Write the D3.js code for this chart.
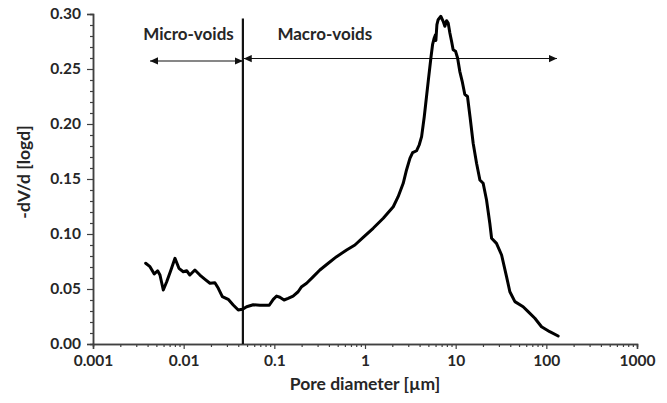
<!DOCTYPE html>
<html>
<head>
<meta charset="utf-8">
<script src="https://cdn.jsdelivr.net/npm/d3@7"></script>
<style>
  html, body { margin: 0; padding: 0; background: #fff; }
  svg { display: block; }
  text { font-family: Lato, "Open Sans", sans-serif; font-weight: 700; fill: #262626; }
</style>
</head>
<body>
<svg id="chart" width="667" height="403"></svg>
<script>
// Pore size distribution: -dV/d(log d) against pore diameter (µm)
const poreDiameter = [
  0.00381, 0.00425, 0.00474, 0.00516, 0.00548, 0.00596, 0.00650, 0.00724, 0.00802, 0.00887,
  0.00990, 0.0108, 0.0117, 0.0133, 0.0151, 0.0172, 0.0195, 0.0221, 0.0241, 0.0267,
  0.0310, 0.0352, 0.0400, 0.0443, 0.0495, 0.0585, 0.0693, 0.0879, 0.0973, 0.106,
  0.115, 0.128, 0.142, 0.161, 0.183, 0.200, 0.227, 0.269, 0.318, 0.393,
  0.486, 0.627, 0.774, 0.955, 1.23, 1.59, 2.05, 2.32, 2.64, 2.87,
  3.13, 3.35, 3.71, 3.96, 4.21, 4.38, 4.50, 4.66, 4.98, 5.33,
  5.56, 5.80, 6.00, 6.05, 6.21, 6.41, 6.87, 7.28, 7.60, 7.94,
  8.27, 8.63, 9.01, 9.38, 9.97, 10.5, 11.1, 11.8, 12.6, 13.5,
  14.4, 15.6, 17.0, 18.5, 20.1, 21.9, 23.8, 24.9, 28.2, 32.1,
  36.4, 39.6, 45.0, 55.5, 63.0, 74.7, 88.5, 109, 135
];
const dVdlogd = [
  0.0734, 0.0703, 0.0636, 0.0666, 0.0627, 0.0491, 0.0566, 0.0673, 0.0779, 0.0688,
  0.0657, 0.0666, 0.0627, 0.0673, 0.0627, 0.0588, 0.0552, 0.0557, 0.0506, 0.0430,
  0.0406, 0.0355, 0.0309, 0.0315, 0.0339, 0.0357, 0.0352, 0.0352, 0.0406, 0.0436,
  0.0425, 0.0400, 0.0415, 0.0436, 0.0475, 0.0521, 0.0552, 0.0612, 0.0673, 0.0734,
  0.0794, 0.0855, 0.0900, 0.0970, 0.1052, 0.1143, 0.1248, 0.1339, 0.1461, 0.1582,
  0.1688, 0.1739, 0.1757, 0.1809, 0.1885, 0.1991, 0.2064, 0.2175, 0.2388, 0.2600,
  0.2721, 0.2782, 0.2812, 0.2760, 0.2903, 0.2948, 0.2979, 0.2934, 0.2888, 0.2939,
  0.2918, 0.2827, 0.2752, 0.2675, 0.2661, 0.2600, 0.2479, 0.2388, 0.2270, 0.2250,
  0.2066, 0.1825, 0.1643, 0.1491, 0.1461, 0.1309, 0.1097, 0.0961, 0.0915, 0.0809,
  0.0612, 0.0475, 0.0385, 0.0339, 0.0294, 0.0234, 0.0157, 0.0112, 0.0073
];

// Axis ticks and labels
const xTickValues = [0.001, 0.01, 0.1, 1, 10, 100, 1000];
const xTickLabels = ["0.001", "0.01", "0.1", "1", "10", "100", "1000"];
const yTickValues = [0, 0.05, 0.10, 0.15, 0.20, 0.25, 0.30];
const yTickLabels = ["0.00", "0.05", "0.10", "0.15", "0.20", "0.25", "0.30"];

// Boundary between micro- and macro-voids, and the range arrows
const voidBoundary = 0.045;
const microArrow = [0.00425, 0.045];
const macroArrow = [0.046, 131];
const arrowLevels = [0.2573, 0.2595];
const regionLabels = ["Micro-voids", "Macro-voids"];
const regionLabelX = [0.0113, 0.36];
const regionLabelY = [0.2765, 0.2765];

const svg = d3.select("#chart");
const x = d3.scaleLog().domain([0.001, 1000]).range([93, 637]);
const y = d3.scaleLinear().domain([0, 0.30]).range([344, 14]);

const axisColor = "#404040";

// minor ticks
const xMinor = [];
for (let e = -3; e < 3; e++) for (let k = 2; k <= 9; k++) xMinor.push(k * Math.pow(10, e));
const yMinor = d3.range(0, 31).map(i => i / 100).filter(v => Math.round(v * 100) % 5 !== 0);

const gxMinor = svg.append("g").attr("transform", "translate(0,344)")
  .call(d3.axisBottom(x).tickValues(xMinor).tickSize(3).tickFormat(""));
const gx = svg.append("g").attr("transform", "translate(0,344)")
  .call(d3.axisBottom(x).tickValues(xTickValues).tickSize(5).tickPadding(6)
    .tickFormat((d, i) => xTickLabels[i]));
const gyMinor = svg.append("g").attr("transform", "translate(93,0)")
  .call(d3.axisLeft(y).tickValues(yMinor).tickSize(3).tickFormat(""));
const gy = svg.append("g").attr("transform", "translate(93,0)")
  .call(d3.axisLeft(y).tickValues(yTickValues).tickSize(6).tickPadding(6)
    .tickFormat((d, i) => yTickLabels[i]));

[gx, gy, gxMinor, gyMinor].forEach(g => {
  g.selectAll(".domain").attr("stroke", axisColor).attr("stroke-width", 1.5);
  g.selectAll(".tick line").attr("stroke", axisColor).attr("stroke-width", 1.2);
  g.selectAll("text").attr("font-size", 15.5).attr("font-family", "Lato, sans-serif")
    .attr("font-weight", 700).attr("fill", "#262626");
});

// axis titles
svg.append("text").attr("x", 365).attr("y", 390).attr("text-anchor", "middle")
  .attr("font-size", 17.5).text("Pore diameter [µm]");
svg.append("text").attr("transform", "translate(30,172) rotate(-90)")
  .attr("text-anchor", "middle").attr("font-size", 17.5).text("-dV/d [logd]");

// arrow markers
const defs = svg.append("defs");
["end", "start"].forEach(kind => {
  defs.append("marker").attr("id", "arrow-" + kind)
    .attr("viewBox", "0 0 10 10").attr("refX", 10).attr("refY", 5)
    .attr("markerWidth", 8).attr("markerHeight", 8)
    .attr("markerUnits", "userSpaceOnUse")
    .attr("orient", kind === "end" ? "auto" : "auto-start-reverse")
    .append("path").attr("d", "M0,0.5 L10,5 L0,9.5 Z").attr("fill", "#111");
});

[microArrow, macroArrow].forEach((r, i) => {
  svg.append("line")
    .attr("x1", x(r[0])).attr("x2", x(r[1]))
    .attr("y1", y(arrowLevels[i])).attr("y2", y(arrowLevels[i]))
    .attr("stroke", "#111").attr("stroke-width", 1.1)
    .attr("marker-start", "url(#arrow-start)")
    .attr("marker-end", "url(#arrow-end)");
});

regionLabels.forEach((t, i) => {
  svg.append("text").attr("x", x(regionLabelX[i])).attr("y", y(regionLabelY[i]))
    .attr("text-anchor", "middle").attr("font-size", 17).text(t);
});

// boundary line
svg.append("line")
  .attr("x1", x(voidBoundary)).attr("x2", x(voidBoundary))
  .attr("y1", y(0.296)).attr("y2", y(0))
  .attr("stroke", "#111").attr("stroke-width", 2.2);

// distribution curve
const line = d3.line().x(d => x(d[0])).y(d => y(d[1]));
svg.append("path")
  .datum(poreDiameter.map((d, i) => [d, dVdlogd[i]]))
  .attr("d", line)
  .attr("fill", "none").attr("stroke", "#000").attr("stroke-width", 3)
  .attr("stroke-linejoin", "round").attr("stroke-linecap", "round");
</script>
</body>
</html>
